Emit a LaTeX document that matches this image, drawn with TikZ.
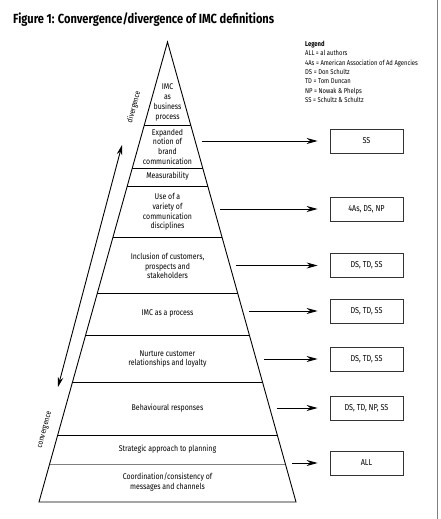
\documentclass[tikz,border=0pt]{standalone}
\usepackage{fontspec}
\setmainfont{Fira Sans}[FakeStretch=0.84]
\usetikzlibrary{arrows.meta,calc}

\tikzset{
  level/.style={align=center,inner sep=0pt,font=\fontsize{8.3}{9.7}\selectfont},
  authorbox/.style={draw=black!80,line width=0.8pt,minimum width=73pt,minimum height=24pt,inner sep=0pt,font=\fontsize{8.6}{9}\selectfont},
  toauthor/.style={-{Stealth[length=11pt,width=6pt]},line width=0.9pt,shorten >=12pt},
  axislabel/.style={rotate=75,inner sep=0pt,font=\fontsize{7.8}{9}\selectfont},
}

\begin{document}
\begin{tikzpicture}[x=1pt,y=-1pt]
\useasboundingbox (0,0) rectangle (440,519);
% page edge
\draw[gray,line width=1.4pt] (437.5,0) -- (437.5,519);

% title
\node[anchor=west,inner sep=0pt,font=\bfseries\fontsize{13.2}{15}\selectfont] (title) at (13,20) {Figure 1: Convergence/divergence of IMC definitions};

% legend
\node[anchor=north west,align=left,inner sep=0pt,font=\fontsize{7}{9.3}\selectfont] (legend) at (305,41) {\textbf{Legend}\\ALL = al authors\\4As = American Association of Ad Agencies\\DS = Don Schultz\\TD = Tom Duncan\\NP = Nowak \& Phelps\\SS = Schultz \& Schultz};

% pyramid outline
\coordinate (apex) at (167.5,42);
\coordinate (bl) at (39,502);
\coordinate (br) at (296,502);
\draw[line width=0.9pt] (apex) -- (bl) -- (br) -- cycle;

% level borders
\foreach \h in {125,168,186,237,293,335,382,435}
  \draw[line width=0.9pt] ($(apex)!{(\h-42)/460}!(bl)$) -- ($(apex)!{(\h-42)/460}!(br)$);
\draw[line width=0.9pt,gray] ($(apex)!{(464-42)/460}!(bl)$) -- ($(apex)!{(464-42)/460}!(br)$);

% level texts
\node[level] (business) at (167.5,102.5) {IMC\\as\\business\\process};
\node[level] (brand) at (167.5,146.5) {Expanded\\notion of\\brand\\communication};
\node[level] (measure) at (167.5,176.5) {Measurability};
\node[level] (variety) at (167.5,212) {Use of a\\variety of\\communication\\disciplines};
\node[level] (inclusion) at (167.5,266) {Inclusion of customers,\\prospects and\\stakeholders};
\node[level] (process) at (167.5,313) {IMC as a process};
\node[level] (nurture) at (167.5,359) {Nurture customer\\relationships and loyalty};
\node[level] (behaviour) at (167.5,408) {Behavioural responses};
\node[level] (strategic) at (167.5,449.5) {Strategic approach to planning};
\node[level] (coord) at (167.5,482) {Coordination/consistency of\\messages and channels};

% author boxes
\node[authorbox] (ss) at (366.5,141) {SS};
\node[authorbox] (fouras) at (366.5,209) {4As, DS, NP};
\node[authorbox] (dtsA) at (366.5,265.5) {DS, TD, SS};
\node[authorbox] (dtsB) at (366.5,311) {DS, TD, SS};
\node[authorbox] (dtsC) at (366.5,359) {DS, TD, SS};
\node[authorbox] (dtns) at (366.5,408) {DS, TD, NP, SS};
\node[authorbox] (all) at (366.5,463) {ALL};

% arrows to authors
\coordinate (fromBrand) at (202,141);
\coordinate (fromVariety) at (220,209);
\coordinate (fromInclusion) at (236,265.5);
\coordinate (fromProcess) at (249,311);
\coordinate (fromNurture) at (264,359);
\coordinate (fromBehaviour) at (277,408);
\coordinate (fromStrategic) at (292,463);
\draw[toauthor] (fromBrand) -- (ss);
\draw[toauthor] (fromVariety) -- (fouras);
\draw[toauthor] (fromInclusion) -- (dtsA);
\draw[toauthor] (fromProcess) -- (dtsB);
\draw[toauthor] (fromNurture) -- (dtsC);
\draw[toauthor] (fromBehaviour) -- (dtns);
\draw[toauthor] (fromStrategic) -- (all);

% convergence / divergence axis
\coordinate (conv) at (58,387);
\coordinate (div) at (122,145);
\draw[{Stealth[length=10pt,width=5.5pt]}-{Stealth[length=10pt,width=5.5pt]},line width=0.9pt] (conv) -- (div);
\node[axislabel] (divlabel) at (134,107) {divergence};
\node[axislabel] (convlabel) at (45,430) {convergence};
\end{tikzpicture}
\end{document}
